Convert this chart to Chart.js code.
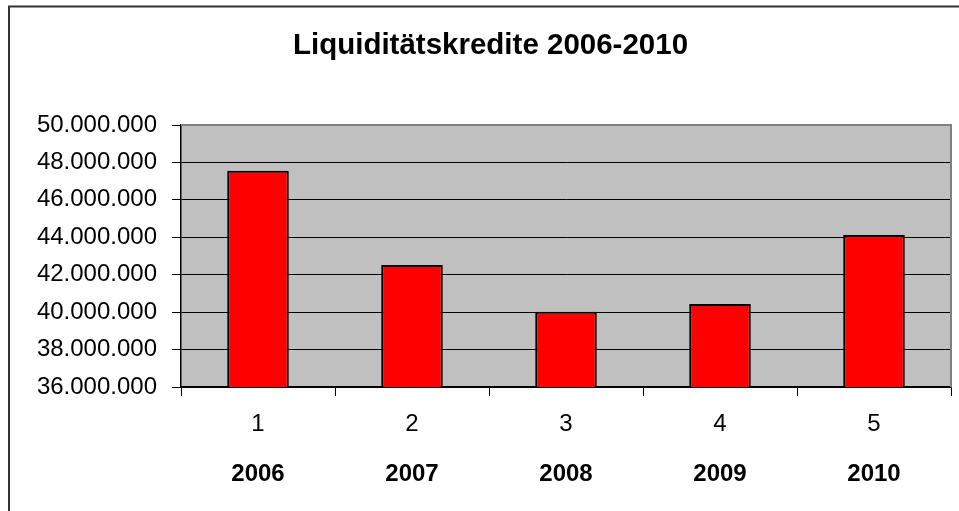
<!DOCTYPE html>
<html>
<head>
<meta charset="utf-8">
<script src="https://cdn.jsdelivr.net/npm/chart.js@4/dist/chart.umd.min.js"></script>
<style>
  html, body { margin: 0; padding: 0; background: #fff; }
  #wrap { position: absolute; left: 0; top: 0; width: 959px; height: 511px; }
</style>
</head>
<body>
<div id="wrap"><canvas id="c" width="959" height="511"></canvas></div>
<script>
const titleText = 'Liquiditätskredite 2006-2010';
const indexLabels = ['1', '2', '3', '4', '5'];
const yearLabels = ['2006', '2007', '2008', '2009', '2010'];
const credits = [47550000, 42520000, 40020000, 40440000, 44120000];
const yMin = 36000000;
const yMax = 50000000;
const yStep = 2000000;

function fmt(v) {
  return String(Math.round(v)).replace(/\B(?=(\d{3})+(?!\d))/g, '.');
}

const frame = {
  id: 'frame',
  afterLayout(chart) {
    const t = chart.titleBlock;
    if (t) { t.left += 30; t.width = t.right - t.left; }
  },
  beforeDraw(chart) {
    const { ctx, chartArea: a } = chart;
    ctx.save();
    ctx.fillStyle = '#ffffff';
    ctx.fillRect(0, 0, chart.width, chart.height);
    ctx.fillStyle = '#C0C0C0';
    ctx.fillRect(a.left, a.top, a.right - a.left, a.bottom - a.top);
    ctx.strokeStyle = '#333333';
    ctx.lineWidth = 2;
    ctx.beginPath();
    ctx.moveTo(9, chart.height);
    ctx.lineTo(9, 6.5);
    ctx.lineTo(chart.width, 6.5);
    ctx.stroke();
    ctx.restore();
  },
  afterDraw(chart) {
    const { ctx, chartArea: a } = chart;
    ctx.save();
    ctx.strokeStyle = '#808080';
    ctx.lineWidth = 2;
    ctx.beginPath();
    ctx.moveTo(a.left, a.top);
    ctx.lineTo(a.right, a.top);
    ctx.lineTo(a.right, a.bottom);
    ctx.stroke();
    ctx.restore();
  }
};

new Chart(document.getElementById('c'), {
  type: 'bar',
  data: {
    labels: indexLabels,
    datasets: [{
      data: credits,
      backgroundColor: '#FF0000',
      borderColor: '#000000',
      borderWidth: 2,
      categoryPercentage: 1,
      barPercentage: 0.4
    }]
  },
  options: {
    responsive: false,
    animation: false,
    devicePixelRatio: 1,
    layout: { padding: { left: 0, right: 8, top: 0, bottom: 0 } },
    plugins: {
      legend: { display: false },
      tooltip: { enabled: false },
      title: {
        display: true,
        text: titleText,
        color: '#000',
        font: { family: 'Liberation Sans, Arial, sans-serif', size: 29.5, weight: 'bold' },
        padding: { top: 28, bottom: 61.6 }
      }
    },
    scales: {
      y: {
        min: yMin,
        max: yMax,
        afterFit(s) { s.width = 181; },
        ticks: {
          stepSize: yStep,
          padding: 15,
          color: '#000',
          font: { family: 'Liberation Sans, Arial, sans-serif', size: 24 },
          callback: (v) => fmt(v)
        },
        grid: {
          color: (c) => (c.tick && c.tick.value === yMax) ? '#808080' : '#000000',
          tickColor: '#000000',
          tickLength: 9,
          lineWidth: 1
        },
        border: { display: true, color: '#000000', width: 1.5 }
      },
      x: {
        weight: 0,
        afterFit(s) { s.height = 60; },
        ticks: {
          padding: 14,
          color: '#000',
          font: { family: 'Liberation Sans, Arial, sans-serif', size: 24 }
        },
        grid: {
          offset: true,
          drawOnChartArea: false,
          color: '#000000',
          tickLength: 9
        },
        border: { display: true, color: '#000000', width: 1.5 }
      },
      x2: {
        type: 'category',
        labels: yearLabels,
        position: 'bottom',
        weight: 1,
        offset: true,
        afterFit(s) { s.height = 64; },
        ticks: {
          padding: 13,
          color: '#000',
          font: { family: 'Liberation Sans, Arial, sans-serif', size: 24, weight: 'bold' }
        },
        grid: { display: false, drawTicks: false },
        border: { display: false }
      }
    }
  },
  plugins: [frame]
});
</script>
</body>
</html>
